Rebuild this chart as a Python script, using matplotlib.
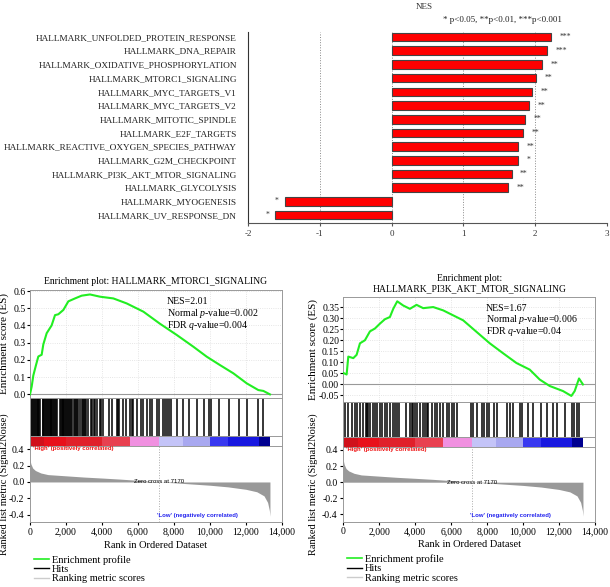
import matplotlib
matplotlib.use("Agg")
import matplotlib.pyplot as plt
from matplotlib.lines import Line2D
from matplotlib.ticker import FuncFormatter

plt.rcParams['font.family'] = ['Liberation Serif', 'DejaVu Serif']
plt.rcParams['mathtext.fontset'] = 'custom'
plt.rcParams['mathtext.rm'] = 'Liberation Serif'
plt.rcParams['mathtext.it'] = 'Liberation Serif:italic'
plt.rcParams['axes.unicode_minus'] = False

# ---- top bar chart data ----
pathways = ['HALLMARK_UNFOLDED_PROTEIN_RESPONSE', 'HALLMARK_DNA_REPAIR',
            'HALLMARK_OXIDATIVE_PHOSPHORYLATION', 'HALLMARK_MTORC1_SIGNALING',
            'HALLMARK_MYC_TARGETS_V1', 'HALLMARK_MYC_TARGETS_V2',
            'HALLMARK_MITOTIC_SPINDLE', 'HALLMARK_E2F_TARGETS',
            'HALLMARK_REACTIVE_OXYGEN_SPECIES_PATHWAY', 'HALLMARK_G2M_CHECKPOINT',
            'HALLMARK_PI3K_AKT_MTOR_SIGNALING', 'HALLMARK_GLYCOLYSIS',
            'HALLMARK_MYOGENESIS', 'HALLMARK_UV_RESPONSE_DN']
nes = [2.22, 2.17, 2.09, 2.01, 1.95, 1.92, 1.86, 1.83, 1.76, 1.76, 1.67, 1.62, -1.49, -1.62]
stars = ['***', '***', '**', '**', '**', '**', '**', '**', '**', '*', '**', '**', '*', '*']

# ---- GSEA data ----
mtor_rank = [0, 93, 185, 333, 463, 648, 740, 926, 1200, 1390, 1574, 1852, 2130, 2500, 2870,
             3333, 3890, 4630, 5370, 6300, 7220, 8150, 9070, 9815, 10555, 11300, 12040,
             12685, 12965, 13330]
mtor_es = [0.0, 0.045, 0.11, 0.17, 0.22, 0.23, 0.29, 0.355, 0.40, 0.46, 0.465, 0.49, 0.54,
           0.557, 0.573, 0.58, 0.567, 0.557, 0.528, 0.48, 0.41, 0.345, 0.277, 0.219, 0.17,
           0.122, 0.064, 0.025, 0.02, 0.0]
mtor_hits = [20, 60, 110, 150, 230, 280, 330, 380, 420, 470, 520, 560, 700, 740, 790, 830,
             880, 930, 1020, 1060, 1100, 1150, 1190, 1240, 1290, 1330, 1380, 1430, 1480,
             1670, 1710, 1760, 1810, 1860, 1900, 1950, 2000, 2050, 2100, 2150, 2200, 2260,
             2310, 2440, 2500, 2560, 2620, 2690, 2780, 2870, 2920, 2990, 3060, 3130, 3240,
             3410, 3470, 3560, 3630, 3700, 3890, 3960, 4070, 4370, 4530, 4820, 4870, 4960,
             5150, 5330, 5560, 5640, 5740, 5930, 6150, 6300, 6480, 6650, 6760, 7040, 7190,
             7410, 7520, 7630, 7740, 7850, 8150, 8520, 8850, 9300, 9670, 9960, 10040,
             10480, 11060, 11590, 12060, 12690, 12960]

pi3k_rank = [0, 185, 278, 556, 741, 926, 1204, 1482, 1760, 2037, 2315, 2593, 2778, 3000,
             3333, 3704, 4074, 4444, 5000, 5556, 6111, 6667, 7407, 8148, 8889, 9630, 10370,
             10926, 11481, 12222, 12685, 12870, 13111, 13330]
pi3k_es = [0.052, 0.045, 0.126, 0.119, 0.134, 0.186, 0.20, 0.24, 0.253, 0.275, 0.295, 0.305,
           0.342, 0.376, 0.357, 0.342, 0.36, 0.345, 0.35, 0.335, 0.3125, 0.29, 0.238, 0.186,
           0.141, 0.097, 0.067, 0.022, -0.007, -0.03, -0.052, -0.03, 0.027, 0.0]
pi3k_hits = [93, 278, 464, 649, 779, 927, 1112, 1261, 1335, 1390, 1483, 1669, 1761, 1891,
             2039, 2132, 2318, 2447, 2596, 2744, 2874, 3003, 3078, 3486, 3708, 3800, 3893,
             3986, 4078, 4264, 4450, 4542, 4635, 4728, 4913, 5099, 5228, 5377, 5562, 5747,
             5896, 6026, 6174, 6304, 7082, 7231, 7453, 7694, 7824, 7972, 8102, 8380, 8528,
             9085, 9270, 9455, 9826, 9919, 10290, 10568, 10976, 11309, 11680, 11903, 12329,
             12700, 12830, 13015, 13126]

# ranked list metric (same data set for both)
metric_rank = [0, 50, 150, 300, 600, 1000, 2000, 3000, 4000, 5000, 6000, 7170, 8000, 9000,
               10000, 11000, 12000, 12600, 13000, 13200, 13300, 13330]
metric_val = [0.27, 0.22, 0.17, 0.14, 0.11, 0.09, 0.075, 0.06, 0.048, 0.035, 0.02, 0.0,
              -0.01, -0.025, -0.04, -0.06, -0.09, -0.12, -0.17, -0.25, -0.35, -0.42]

# colour bar segments (start, end, colour)
band_start = [0, 800, 2000, 4000, 5560, 7170, 8500, 10000, 11000, 12700]
band_end = [800, 2000, 4000, 5560, 7170, 8500, 10000, 11000, 12700, 13330]
band_color = ['#d0101a', '#e8101a', '#e0202a', '#e84050', '#f090e0', '#c4c4f8', '#a8a8f0',
              '#3838f0', '#1818e0', '#000090']

fig = plt.figure(figsize=(6.10, 5.87), dpi=100)

# ================= bar chart =================
ax = fig.add_axes([248 / 610, 1 - 222.7 / 587, 359 / 610, (222.7 - 32) / 587])
ypos = list(range(len(pathways)))
ax.barh(ypos, nes, height=0.63, color='#ff0000', edgecolor='#444444', linewidth=0.8, zorder=3)
for x in [-1, 0, 1, 2, 3]:
    ax.axvline(x, color='#888888', linestyle=':', linewidth=0.7, zorder=1)
for y, v, s in zip(ypos, nes, stars):
    if v > 0:
        ax.text(v + 0.12, y, s, ha='left', va='center', fontsize=5.5, color='#333333')
    else:
        ax.text(v - 0.08, y, s, ha='right', va='center', fontsize=5.5, color='#333333')
ax.set_xlim(-2, 3)
ax.set_ylim(13.56, -0.37)
ax.set_yticks(ypos)
ax.set_yticklabels(pathways, fontsize=6.7, color='#222222')
ax.tick_params(axis='y', length=0, pad=8)
ax.set_xticks([-2, -1, 0, 1, 2, 3])
ax.tick_params(axis='x', labelsize=6.5, length=2, color='#555555', labelcolor='#333333')
for sp in ['top', 'right']:
    ax.spines[sp].set_visible(False)
ax.spines['left'].set_color('#333333')
ax.spines['bottom'].set_color('#555555')
fig.text(424 / 610, 1 - 7 / 587, 'NES', ha='center', va='center', fontsize=6.5, color='#333333')
fig.text(502 / 610, 1 - 20 / 587, '* p<0.05, **p<0.01, ***p<0.001', ha='center', va='center',
         fontsize=6.5, color='#222222')

comma = FuncFormatter(lambda v, p: f'{int(v):,}')


def draw_gsea(left, width, es_box, hit_box, bar_box, met_box, rank, es, hits, title,
              es_lim, es_ticks, es_fmt, nes_lines, nes_x, label_x):
    ax_es = fig.add_axes([left, es_box[0], width, es_box[1]])
    ax_hit = fig.add_axes([left, hit_box[0], width, hit_box[1]])
    ax_bar = fig.add_axes([left, bar_box[0], width, bar_box[1]])
    ax_met = fig.add_axes([left, met_box[0], width, met_box[1]])
    for a in [ax_es, ax_hit, ax_bar, ax_met]:
        a.set_xlim(0, 14000)
        for sp in a.spines.values():
            sp.set_color('#999999')
            sp.set_linewidth(0.7)

    # enrichment score
    ax_es.grid(True, color='#dddddd', linestyle=':', linewidth=0.6)
    ax_es.axhline(0, color='#999999', linewidth=0.8)
    ax_es.plot(rank, es, color='#22ee22', linewidth=1.5, zorder=3)
    ax_es.set_ylim(*es_lim)
    ax_es.set_yticks(es_ticks)
    ax_es.set_yticklabels([es_fmt.format(t) for t in es_ticks])
    ax_es.set_xticks(range(0, 14001, 2000))
    ax_es.tick_params(axis='x', labelbottom=False, length=0)
    ax_es.tick_params(axis='y', labelsize=7, length=2, pad=1)
    ax_es.set_ylabel('Enrichment score (ES)', fontsize=8)
    ax_es.yaxis.set_label_coords(label_x, 0.5)
    ax_es.set_title(title, fontsize=6.9, pad=4)
    for i, line in enumerate(nes_lines):
        ax_es.text(nes_x, 0.89 - i * 0.11, line, fontsize=7.1, va='center', ha='left',
                   transform=ax_es.get_xaxis_transform())

    # hits
    ax_hit.vlines(hits, 0, 1, color='black', linewidth=1.1)
    ax_hit.set_ylim(0, 1)
    ax_hit.set_xticks([])
    ax_hit.set_yticks([])

    # colour bar
    for s, e, c in zip(band_start, band_end, band_color):
        ax_bar.axvspan(s, e, color=c, linewidth=0)
    ax_bar.set_xticks([])
    ax_bar.set_yticks([])

    # ranked list metric
    ax_met.fill_between(metric_rank, metric_val, 0, color='#999999', linewidth=0)
    ax_met.axvline(7170, color='#aaaaaa', linestyle=':', linewidth=0.7)
    ax_met.set_ylim(-0.49, 0.44)
    ax_met.set_yticks([0.4, 0.2, 0.0, -0.2, -0.4])
    ax_met.set_yticklabels(['0.4', '0.2', '0.0', '-0.2', '-0.4'])
    ax_met.set_xticks(range(0, 14001, 2000))
    ax_met.xaxis.set_major_formatter(comma)
    ax_met.tick_params(labelsize=7, length=2, pad=2)
    ax_met.set_xlabel('Rank in Ordered Dataset', fontsize=7.5, labelpad=3)
    ax_met.set_ylabel('Ranked list metric (Signal2Noise)', fontsize=7.5)
    ax_met.yaxis.set_label_coords(label_x, 0.5)
    ax_met.text(150, 0.41, "'High' (positively correlated)", color='#ee1111', fontsize=4.3,
                fontweight='bold', family='Liberation Sans', va='center', ha='left')
    ax_met.text(7170, 0.0, 'Zero cross at 7170', color='black', fontsize=4.3,
                family='Liberation Sans', va='center', ha='center')
    ax_met.text(9300, -0.41, "'Low' (negatively correlated)", color='#2222ee', fontsize=4.3,
                fontweight='bold', family='Liberation Sans', va='center', ha='center')

    handles = [Line2D([], [], color='#22ee22', linewidth=1.2),
               Line2D([], [], color='black', linewidth=1.0),
               Line2D([], [], color='#cccccc', linewidth=1.0)]
    ax_met.legend(handles, ['Enrichment profile', 'Hits', 'Ranking metric scores'],
                  loc='upper left', bbox_to_anchor=(0.0, -0.38), frameon=False, fontsize=7.5,
                  handlelength=1.4, labelspacing=0.0, borderaxespad=0, handletextpad=0.3)


draw_gsea(30 / 610, 252 / 610, (0.3220, 0.1840), (0.2564, 0.0656), (0.2402, 0.0162),
          (0.1107, 0.1295), mtor_rank, mtor_es, mtor_hits,
          'Enrichment plot: HALLMARK_MTORC1_SIGNALING', (-0.021, 0.606),
          [0.0, 0.1, 0.2, 0.3, 0.4, 0.5, 0.6], '{:.1f}',
          ['NES=2.01', 'Normal $p$-value=0.002', 'FDR $q$-value=0.004'], 7600, -0.082)

draw_gsea(343.3 / 610, 251.7 / 610, (0.3157, 0.1789), (0.2560, 0.0596), (0.2390, 0.0170),
          (0.1112, 0.1278), pi3k_rank, pi3k_es, pi3k_hits,
          'Enrichment plot:\nHALLMARK_PI3K_AKT_MTOR_SIGNALING', (-0.078, 0.397),
          [-0.05, 0.0, 0.05, 0.1, 0.15, 0.2, 0.25, 0.3, 0.35], '{:.2f}',
          ['NES=1.67', 'Normal $p$-value=0.006', 'FDR $q$-value=0.04'], 7940, -0.10)

fig.savefig('out.png', dpi=100)
